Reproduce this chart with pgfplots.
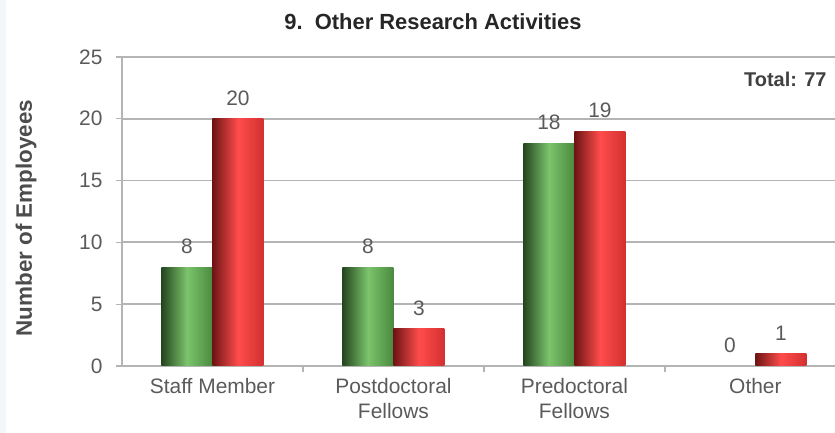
\documentclass[border=0pt]{standalone}
\usepackage{fontspec}
\setmainfont{Liberation Sans}
\usepackage{pgfplots}
\pgfplotsset{compat=1.18}

\definecolor{gleft}{HTML}{24461F}
\definecolor{gmid}{HTML}{7CC46C}
\definecolor{gright}{HTML}{4A8A3E}
\definecolor{rleft}{HTML}{6E1414}
\definecolor{rmid}{HTML}{FF4C4C}
\definecolor{rright}{HTML}{D33030}
\definecolor{gridc}{HTML}{B4B4B4}
\definecolor{txt}{HTML}{5A5A5A}
\definecolor{edge}{HTML}{F3F6FA}

% each bar is its own plot so that the shading runs across one bar only
\pgfplotsset{
    greenbar/.style={draw=none, bar shift=-25.5bp,
        left color=gleft, right color=gright, middle color=gmid},
    redbar/.style={draw=none, bar shift=25.5bp,
        left color=rleft, right color=rright, middle color=rmid},
}

\begin{document}
\begin{tikzpicture}[x=1bp,y=1bp]
\useasboundingbox (-122,-67) rectangle (713,366);
\fill[edge] (-122,-67) rectangle (-116,366);
\begin{axis}[
    at={(0,0)}, anchor=south west,
    scale only axis, width=713bp, height=309bp,
    xmin=-0.5, xmax=3.44,
    ymin=0, ymax=25,
    ytick={0,5,...,25},
    xtick={0,1,2,3},
    xticklabels={Staff Member, Postdoctoral\\Fellows, Predoctoral\\Fellows, Other},
    minor xtick={0.5,1.5,2.5},
    x tick label style={align=center, font=\fontsize{21}{25}\selectfont, text=txt},
    y tick label style={font=\fontsize{21}{24}\selectfont, text=txt},
    /pgf/number format/assume math mode=true,
    axis x line*=bottom, axis y line*=left,
    axis line style={gridc, line width=1.5bp},
    major x tick style={draw=none},
    minor x tick style={gridc, line width=1.2bp},
    major y tick style={gridc, line width=1.2bp},
    tick align=outside, major tick length=6bp, minor tick length=6bp,
    ymajorgrids, grid style={gridc, line width=1.8bp},
    xticklabel style={yshift=-3bp},
    yticklabel style={xshift=-10bp},
    ybar=0pt, bar width=51bp,
    nodes near coords,
    every node near coord/.append style={font=\fontsize{21}{24}\selectfont, text=txt, yshift=10bp},
    clip=false,
]
\addplot[greenbar] coordinates {(0,8)};
\addplot[greenbar] coordinates {(1,8)};
\addplot[greenbar] coordinates {(2,18)};
\addplot[greenbar] coordinates {(3,0)};
\addplot[redbar] coordinates {(0,20)};
\addplot[redbar] coordinates {(1,3)};
\addplot[redbar] coordinates {(2,19)};
\addplot[redbar] coordinates {(3,1)};
\end{axis}
\node[font=\bfseries\fontsize{22}{26}\selectfont, text=black!85] at (311,344) {9.\ \ Other Research Activities};
\node[anchor=east, font=\bfseries\fontsize{20}{24}\selectfont, text=black!75] at (708,287) {Total: 77};
\node[rotate=90, font=\bfseries\fontsize{22.5}{26}\selectfont, text=black!70] at (-96,148) {Number of Employees};
\end{tikzpicture}
\end{document}
